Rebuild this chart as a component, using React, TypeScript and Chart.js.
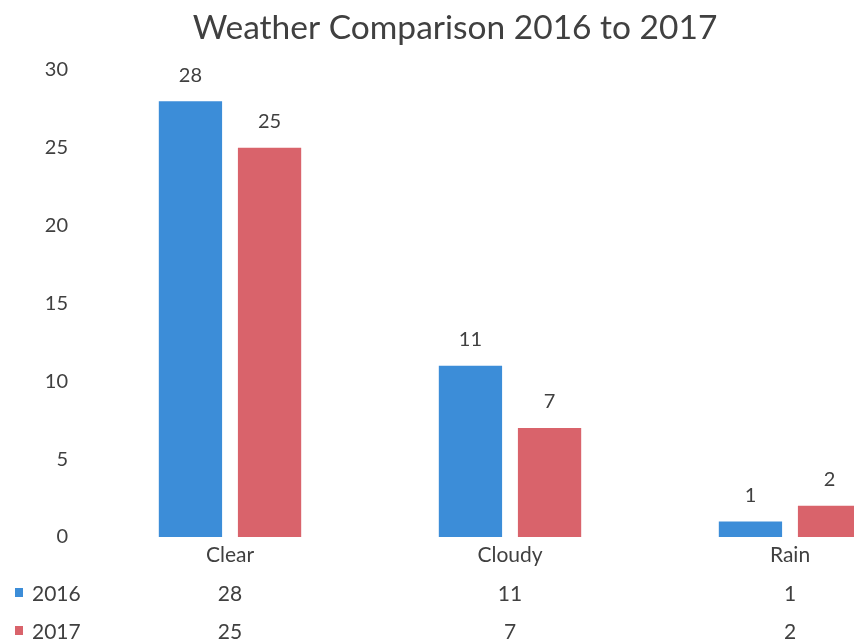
import React, { useEffect, useRef } from "react";
import { Chart, registerables } from "chart.js";

Chart.register(...registerables);

const categories = ["Clear", "Cloudy", "Rain"];
const seriesNames = ["2016", "2017"];
const values2016 = [28, 11, 1];
const values2017 = [25, 7, 2];
const yTicks = [0, 5, 10, 15, 20, 25, 30];
const titleText = "Weather Comparison 2016 to 2017";

const BLUE = "#3c8dd8";
const RED = "#d9636b";
const TEXT = "#404040";
const FONT = "Lato, 'Open Sans', sans-serif";

export default function App() {
  const ref = useRef<HTMLCanvasElement | null>(null);

  useEffect(() => {
    if (!ref.current) return;
    const colors = [BLUE, RED];
    const allValues = [values2016, values2017];

    const overlay = {
      id: "overlay",
      afterDatasetsDraw(chart: any) {
        const ctx = chart.ctx;
        ctx.save();
        // title
        ctx.fillStyle = TEXT;
        ctx.font = `33.5px ${FONT}`;
        ctx.textAlign = "center";
        ctx.textBaseline = "middle";
        ctx.fillText(titleText, 455, 28);
        // data labels
        ctx.font = `20px ${FONT}`;
        chart.data.datasets.forEach((ds: any, di: number) => {
          const meta = chart.getDatasetMeta(di);
          meta.data.forEach((bar: any, i: number) => {
            ctx.fillText(String(ds.data[i]), bar.x, bar.y - 26);
          });
        });
        // data table
        ctx.font = `21px ${FONT}`;
        const xs = chart.scales.x;
        const rowsY = [594, 632];
        seriesNames.forEach((name, r) => {
          ctx.fillStyle = colors[r];
          ctx.fillRect(15, rowsY[r] - 6, 8, 9);
          ctx.fillStyle = TEXT;
          ctx.textAlign = "left";
          ctx.fillText(name, 32, rowsY[r]);
          ctx.textAlign = "center";
          allValues[r].forEach((v, i) => {
            ctx.fillText(String(v), xs.getPixelForValue(i), rowsY[r]);
          });
        });
        ctx.restore();
      },
    };

    const chart = new Chart(ref.current, {
      type: "bar",
      data: {
        labels: categories,
        datasets: [
          { label: seriesNames[0], data: values2016, backgroundColor: BLUE },
          { label: seriesNames[1], data: values2017, backgroundColor: RED },
        ],
      },
      options: {
        animation: false,
        responsive: false,
        events: [],
        layout: { padding: { top: 70, left: 0, right: 0, bottom: 0 } },
        datasets: {
          bar: { categoryPercentage: 0.565, barPercentage: 0.8 },
        },
        plugins: {
          legend: { display: false },
          title: { display: false },
          tooltip: { enabled: false },
        },
        scales: {
          x: {
            grid: { display: false, drawTicks: false },
            border: { display: false },
            ticks: {
              color: TEXT,
              font: { family: FONT, size: 21 },
              padding: 6,
            },
            afterFit(scale: any) {
              scale.height = 104;
            },
          },
          y: {
            min: 0,
            max: 30,
            afterBuildTicks(scale: any) {
              scale.ticks = yTicks.map((v) => ({ value: v }));
            },
            grid: { display: false, drawTicks: false },
            border: { display: false },
            ticks: {
              color: TEXT,
              font: { family: FONT, size: 20 },
              padding: 22,
            },
            afterFit(scale: any) {
              scale.width = 90;
            },
          },
        },
      },
      plugins: [overlay],
    });
    return () => chart.destroy();
  }, []);

  return (
    <div
      style={{
        position: "fixed",
        left: 0,
        top: 0,
        width: 854,
        height: 641,
        overflow: "hidden",
        background: "#fff",
      }}
    >
      <canvas ref={ref} width={930} height={641} style={{ width: 930, height: 641, display: "block" }} />
    </div>
  );
}
